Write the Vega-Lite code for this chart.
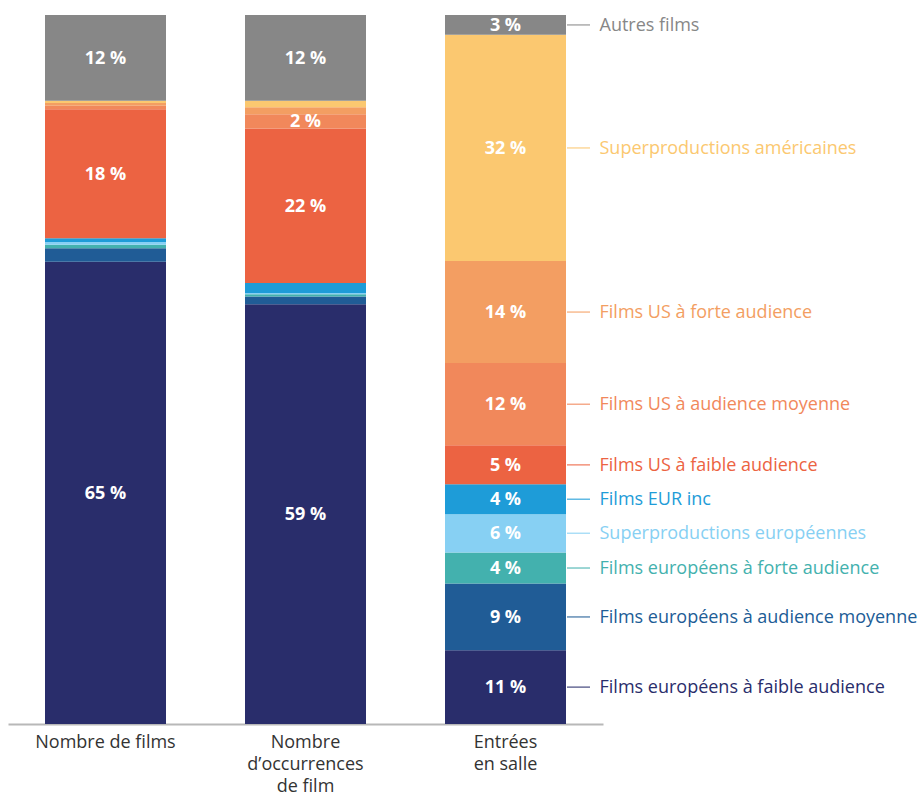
{
  "$schema": "https://vega.github.io/schema/vega-lite/v6.json",
  "width": 595,
  "height": 709,
  "autosize": "none",
  "padding": {"left": 8, "top": 15, "right": 321, "bottom": 71},
  "background": "white",
  "config": {"view": {"stroke": null}, "font": "Open Sans"},
  "data": {"values": [
    {"cat": "Nombre de films", "seg": "Films européens à faible audience", "order": 1, "value": 65.2, "label": "65 %"},
    {"cat": "Nombre de films", "seg": "Films européens à audience moyenne", "order": 2, "value": 1.9, "label": ""},
    {"cat": "Nombre de films", "seg": "Films européens à forte audience", "order": 3, "value": 0.5, "label": ""},
    {"cat": "Nombre de films", "seg": "Superproductions européennes", "order": 4, "value": 0.4, "label": ""},
    {"cat": "Nombre de films", "seg": "Films EUR inc", "order": 5, "value": 0.5, "label": ""},
    {"cat": "Nombre de films", "seg": "Films US à faible audience", "order": 6, "value": 18.2, "label": "18 %"},
    {"cat": "Nombre de films", "seg": "Films US à audience moyenne", "order": 7, "value": 0.5, "label": ""},
    {"cat": "Nombre de films", "seg": "Films US à forte audience", "order": 8, "value": 0.4, "label": ""},
    {"cat": "Nombre de films", "seg": "Superproductions américaines", "order": 9, "value": 0.3, "label": ""},
    {"cat": "Nombre de films", "seg": "Autres films", "order": 10, "value": 12.1, "label": "12 %"},
    {"cat": "Nombre|d’occurrences|de film", "seg": "Films européens à faible audience", "order": 1, "value": 59.2, "label": "59 %"},
    {"cat": "Nombre|d’occurrences|de film", "seg": "Films européens à audience moyenne", "order": 2, "value": 1.1, "label": ""},
    {"cat": "Nombre|d’occurrences|de film", "seg": "Films européens à forte audience", "order": 3, "value": 0.3, "label": ""},
    {"cat": "Nombre|d’occurrences|de film", "seg": "Superproductions européennes", "order": 4, "value": 0.2, "label": ""},
    {"cat": "Nombre|d’occurrences|de film", "seg": "Films EUR inc", "order": 5, "value": 1.4, "label": ""},
    {"cat": "Nombre|d’occurrences|de film", "seg": "Films US à faible audience", "order": 6, "value": 21.8, "label": "22 %"},
    {"cat": "Nombre|d’occurrences|de film", "seg": "Films US à audience moyenne", "order": 7, "value": 2.0, "label": "2 %"},
    {"cat": "Nombre|d’occurrences|de film", "seg": "Films US à forte audience", "order": 8, "value": 1.0, "label": ""},
    {"cat": "Nombre|d’occurrences|de film", "seg": "Superproductions américaines", "order": 9, "value": 0.9, "label": ""},
    {"cat": "Nombre|d’occurrences|de film", "seg": "Autres films", "order": 10, "value": 12.1, "label": "12 %"},
    {"cat": "Entrées|en salle", "seg": "Films européens à faible audience", "order": 1, "value": 10.4, "label": "11 %"},
    {"cat": "Entrées|en salle", "seg": "Films européens à audience moyenne", "order": 2, "value": 9.4, "label": "9 %"},
    {"cat": "Entrées|en salle", "seg": "Films européens à forte audience", "order": 3, "value": 4.4, "label": "4 %"},
    {"cat": "Entrées|en salle", "seg": "Superproductions européennes", "order": 4, "value": 5.4, "label": "6 %"},
    {"cat": "Entrées|en salle", "seg": "Films EUR inc", "order": 5, "value": 4.2, "label": "4 %"},
    {"cat": "Entrées|en salle", "seg": "Films US à faible audience", "order": 6, "value": 5.5, "label": "5 %"},
    {"cat": "Entrées|en salle", "seg": "Films US à audience moyenne", "order": 7, "value": 11.6, "label": "12 %"},
    {"cat": "Entrées|en salle", "seg": "Films US à forte audience", "order": 8, "value": 14.4, "label": "14 %"},
    {"cat": "Entrées|en salle", "seg": "Superproductions américaines", "order": 9, "value": 31.9, "label": "32 %"},
    {"cat": "Entrées|en salle", "seg": "Autres films", "order": 10, "value": 2.8, "label": "3 %"}
  ]},
  "transform": [
    {"stack": "value", "groupby": ["cat"], "sort": [{"field": "order"}], "as": ["y0", "y1"]},
    {"calculate": "(datum.y0 + datum.y1) / 2", "as": "mid"}
  ],
  "encoding": {
    "x": {
      "field": "cat", "type": "nominal",
      "sort": ["Nombre de films", "Nombre|d’occurrences|de film", "Entrées|en salle"],
      "scale": {"paddingInner": 0.395, "paddingOuter": 0.185},
      "axis": {
        "title": null, "labelAngle": 0, "ticks": false,
        "domainColor": "#b8b8b8", "domainWidth": 2,
        "labelFontSize": 18, "labelColor": "#333333", "labelPadding": 9,
        "labelLineHeight": 22, "labelFont": "Open Sans",
        "labelExpr": "split(datum.label, '|')"
      }
    }
  },
  "layer": [
    {
      "mark": {"type": "bar"},
      "encoding": {
        "y": {"field": "y0", "type": "quantitative", "scale": {"domain": [0, 100]}, "axis": null},
        "y2": {"field": "y1"},
        "color": {
          "field": "seg", "type": "nominal", "legend": null,
          "scale": {
            "domain": ["Films européens à faible audience", "Films européens à audience moyenne", "Films européens à forte audience", "Superproductions européennes", "Films EUR inc", "Films US à faible audience", "Films US à audience moyenne", "Films US à forte audience", "Superproductions américaines", "Autres films"],
            "range": ["#292d6b", "#205c96", "#43b1ae", "#87d0f3", "#1e9cd8", "#ec6342", "#f1885b", "#f39e62", "#fbc870", "#878787"]
          }
        }
      }
    },
    {
      "mark": {"type": "text", "color": "white", "fontWeight": "bold", "fontSize": 18, "dy": 1},
      "encoding": {
        "y": {"field": "mid", "type": "quantitative"},
        "text": {"field": "label"}
      }
    },
    {
      "transform": [{"filter": "datum.cat === 'Entrées|en salle'"}],
      "mark": {"type": "tick", "orient": "horizontal", "xOffset": 73, "size": 23, "thickness": 1.5},
      "encoding": {
        "y": {"field": "mid", "type": "quantitative"},
        "color": {"field": "seg", "type": "nominal"}
      }
    },
    {
      "transform": [{"filter": "datum.cat === 'Entrées|en salle'"}],
      "mark": {"type": "text", "align": "left", "dx": 94, "fontSize": 18, "dy": 1},
      "encoding": {
        "y": {"field": "mid", "type": "quantitative"},
        "text": {"field": "seg"},
        "color": {"field": "seg", "type": "nominal"}
      }
    }
  ]
}
